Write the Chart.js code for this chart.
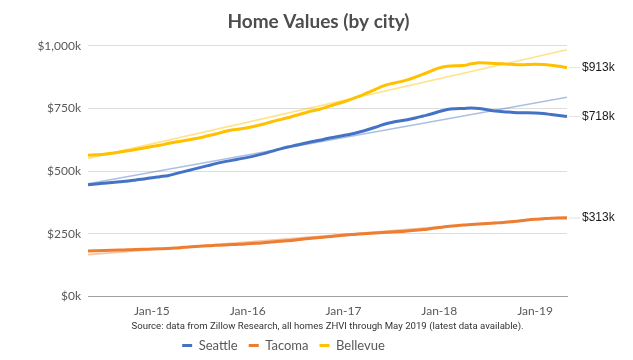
<!DOCTYPE html>
<html>
<head>
<meta charset="utf-8">
<script src="https://cdn.jsdelivr.net/npm/chart.js@4/dist/chart.umd.min.js"></script>
<style>
  html, body { margin: 0; padding: 0; background: #ffffff; }
  #wrap { width: 633px; height: 360px; position: relative; }
</style>
</head>
<body>
<div id="wrap"><canvas id="c"></canvas></div>
<script>
// ---- data ----
const months = [
  "May-14","Jun-14","Jul-14","Aug-14","Sep-14","Oct-14","Nov-14","Dec-14",
  "Jan-15","Feb-15","Mar-15","Apr-15","May-15","Jun-15","Jul-15","Aug-15","Sep-15","Oct-15","Nov-15","Dec-15",
  "Jan-16","Feb-16","Mar-16","Apr-16","May-16","Jun-16","Jul-16","Aug-16","Sep-16","Oct-16","Nov-16","Dec-16",
  "Jan-17","Feb-17","Mar-17","Apr-17","May-17","Jun-17","Jul-17","Aug-17","Sep-17","Oct-17","Nov-17","Dec-17",
  "Jan-18","Feb-18","Mar-18","Apr-18","May-18","Jun-18","Jul-18","Aug-18","Sep-18","Oct-18","Nov-18","Dec-18",
  "Jan-19","Feb-19","Mar-19","Apr-19","May-19"
];
const tickLabels = ["Jan-15","Jan-16","Jan-17","Jan-18","Jan-19"];
const yTicks = [0, 250, 500, 750, 1000];

// values in $ thousands
const seattle = [
  446,449,452,455,458,461,465,469,
  474,478,482,490,498,506,514,522,530,537,543,549,
  555,562,570,579,588,596,603,610,617,623,630,636,
  642,648,656,665,675,686,694,700,705,712,720,728,
  738,746,749,750,752,750,745,740,737,735,733,733,
  732,730,726,722,718
];
const tacoma = [
  181,182,183,184,185,186,187,188,
  189,190,191,193,196,198,200,202,204,205,207,208,
  210,212,214,217,220,222,225,229,232,235,238,241,
  244,247,249,251,253,255,257,259,261,264,267,271,
  275,279,282,285,287,289,291,293,295,298,301,305,
  308,310,312,313,313
];
const bellevue = [
  563,565,567,571,576,581,586,592,
  598,603,610,616,621,627,633,641,648,657,664,668,
  673,680,688,697,705,713,722,731,740,747,757,767,
  776,787,799,813,826,840,849,856,864,875,887,900,
  912,918,920,921,928,932,931,929,928,926,924,925,
  926,925,922,918,913
];
// linear trendline end values (first month, last month)
const seattleTrend = [450, 795];
const tacomaTrend = [167, 318];
const bellevueTrend = [551, 984];

const seriesNames = ["Seattle", "Tacoma", "Bellevue"];
const sourceText = "Source: data from Zillow Research, all homes ZHVI through May 2019 (latest data available).";

// ---- styling ----
const colors = ["#4472C4", "#ED7D31", "#FFC000"];
const trendColors = ["rgba(68,114,196,0.45)", "rgba(237,125,49,0.45)", "rgba(255,192,0,0.45)"];
const mainFont = "Lato, 'Open Sans', sans-serif";

function trendData(t) {
  return [{ x: months[0], y: t[0] }, { x: months[months.length - 1], y: t[1] }];
}

const mains = [seattle, tacoma, bellevue].map((d, i) => ({
  label: seriesNames[i],
  data: d,
  borderColor: colors[i],
  backgroundColor: colors[i],
  borderWidth: 3,
  pointRadius: 0,
  cubicInterpolationMode: 'monotone',
  order: 0,
  isMain: true
}));
const trends = [seattleTrend, tacomaTrend, bellevueTrend].map((t, i) => ({
  label: seriesNames[i] + " trend",
  data: trendData(t),
  borderColor: trendColors[i],
  backgroundColor: trendColors[i],
  borderWidth: 1.6,
  pointRadius: 0,
  order: 1,
  isTrend: true
}));

const endLabelPlugin = {
  id: 'endLabels',
  afterDatasetsDraw(chart) {
    const ctx = chart.ctx;
    ctx.save();
    chart.data.datasets.forEach((ds, i) => {
      if (!ds.isMain) return;
      const meta = chart.getDatasetMeta(i);
      const pt = meta.data[meta.data.length - 1];
      const v = ds.data[ds.data.length - 1];
      ctx.strokeStyle = '#e3e3e3';
      ctx.lineWidth = 1;
      ctx.beginPath();
      ctx.moveTo(pt.x + 2, pt.y);
      ctx.lineTo(pt.x + 13, pt.y);
      ctx.stroke();
      ctx.fillStyle = '#1a1a1a';
      ctx.font = "12px 'Liberation Sans', Arial, sans-serif";
      ctx.textAlign = 'left';
      ctx.textBaseline = 'middle';
      ctx.fillText('$' + v + 'k', pt.x + 15, pt.y);
    });
    ctx.restore();
  }
};

const boxShiftPlugin = {
  id: 'boxShift',
  afterLayout(chart) {
    const lg = chart.legend;
    if (lg) { lg.top -= 6; lg.bottom -= 6; }
    const tb = chart.titleBlock;
    if (tb) { tb.left += 35; tb.right += 35; }
  }
};

new Chart(document.getElementById('c'), {
  type: 'line',
  data: { labels: months, datasets: mains.concat(trends) },
  plugins: [endLabelPlugin, boxShiftPlugin],
  options: {
    responsive: true,
    maintainAspectRatio: false,
    animation: false,
    layout: { padding: { left: 0, right: 66, top: 0, bottom: 0 } },
    plugins: {
      tooltip: { enabled: false },
      title: {
        display: true,
        text: "Home Values (by city)",
        color: '#4d4d4d',
        font: { family: mainFont, size: 19, weight: 'bold' },
        padding: { top: 10, bottom: 13 }
      },
      subtitle: {
        display: true,
        text: sourceText,
        position: 'bottom',
        weight: 500,
        fullSize: false,
        color: '#333333',
        font: { family: "Roboto, 'Liberation Sans', sans-serif", size: 9.6 },
        padding: { top: 2, bottom: 2 }
      },
      legend: {
        display: true,
        position: 'bottom',
        weight: 1000,
        maxHeight: 26,
        labels: {
          color: '#595959',
          font: { family: mainFont, size: 13 },
          boxWidth: 10,
          boxHeight: 3,
          padding: 11,
          generateLabels(chart) {
            const items = Chart.defaults.plugins.legend.labels.generateLabels(chart);
            return items.filter(it => chart.data.datasets[it.datasetIndex].isMain)
                        .map(it => Object.assign(it, { lineWidth: 0 }));
          }
        }
      }
    },
    scales: {
      x: {
        type: 'category',
        grid: { display: false, drawTicks: false },
        border: { display: true, color: '#a0a0a0', width: 1 },
        ticks: {
          autoSkip: false,
          maxRotation: 0,
          padding: 7,
          color: '#595959',
          font: { family: mainFont, size: 12 },
          callback(value) {
            const lab = this.getLabelForValue(value);
            return tickLabels.includes(lab) ? lab : '';
          }
        },
        afterFit(scale) { scale.height = 22; }
      },
      y: {
        min: yTicks[0],
        max: yTicks[yTicks.length - 1],
        grid: { color: '#dddddd', drawTicks: false, lineWidth: 1 },
        border: { display: false },
        afterBuildTicks(scale) { scale.ticks = yTicks.map(v => ({ value: v })); },
        ticks: {
          padding: 7,
          color: '#595959',
          font: { family: mainFont, size: 12 },
          callback(v) { return '$' + v.toLocaleString('en-US') + 'k'; }
        },
        afterFit(scale) { scale.width = 88; }
      }
    }
  }
});
</script>
</body>
</html>
